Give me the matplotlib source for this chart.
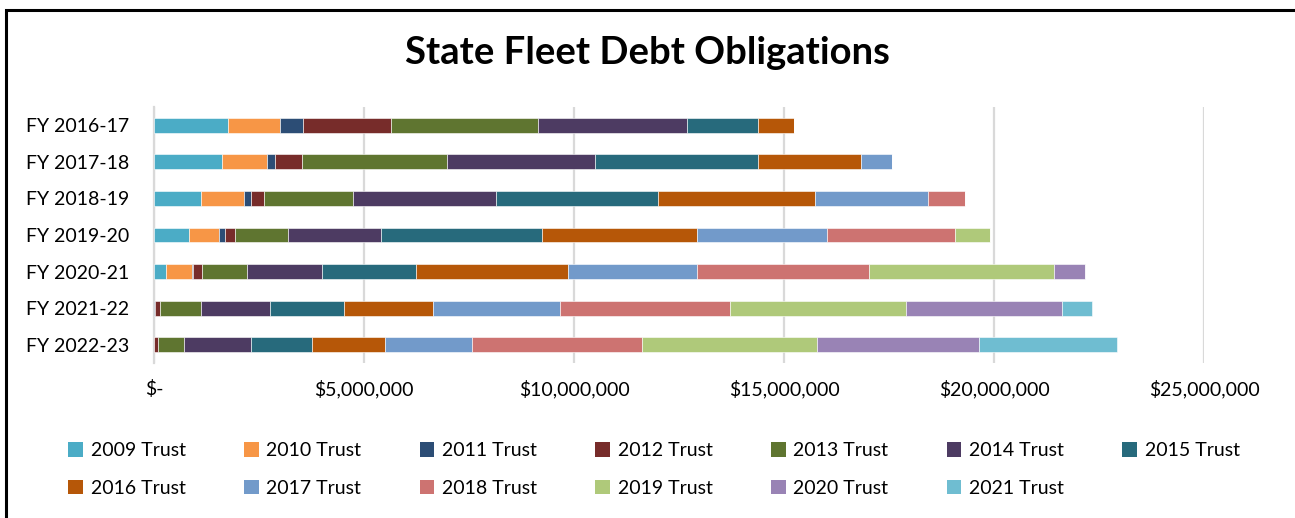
import matplotlib
matplotlib.use("Agg")
import matplotlib.pyplot as plt
from matplotlib.patches import Patch, Rectangle
from matplotlib.ticker import FuncFormatter, MultipleLocator

plt.rcParams["font.family"] = ["Lato", "DejaVu Sans"]

# -------------------- 数据 (单位: 美元百万) --------------------
fiscal_years = ["FY 2016-17", "FY 2017-18", "FY 2018-19", "FY 2019-20",
                "FY 2020-21", "FY 2021-22", "FY 2022-23"]

trusts = ["2009 Trust", "2010 Trust", "2011 Trust", "2012 Trust", "2013 Trust",
          "2014 Trust", "2015 Trust", "2016 Trust", "2017 Trust", "2018 Trust",
          "2019 Trust", "2020 Trust", "2021 Trust"]

t2009 = [1.77, 1.62, 1.12, 0.84, 0.29, 0.00, 0.00]
t2010 = [1.23, 1.08, 1.02, 0.71, 0.61, 0.00, 0.00]
t2011 = [0.54, 0.19, 0.18, 0.15, 0.04, 0.03, 0.00]
t2012 = [2.10, 0.63, 0.29, 0.24, 0.21, 0.12, 0.10]
t2013 = [3.51, 3.46, 2.12, 1.24, 1.06, 0.96, 0.62]
t2014 = [3.53, 3.52, 3.41, 2.23, 1.78, 1.65, 1.60]
t2015 = [1.71, 3.89, 3.87, 3.83, 2.25, 1.77, 1.45]
t2016 = [0.85, 2.44, 3.72, 3.68, 3.62, 2.12, 1.74]
t2017 = [0.00, 0.74, 2.69, 3.10, 3.08, 3.01, 2.05]
t2018 = [0.00, 0.00, 0.90, 3.05, 4.08, 4.06, 4.05]
t2019 = [0.00, 0.00, 0.00, 0.84, 4.41, 4.18, 4.18]
t2020 = [0.00, 0.00, 0.00, 0.00, 0.73, 3.73, 3.85]
t2021 = [0.00, 0.00, 0.00, 0.00, 0.00, 0.70, 3.30]

series = [t2009, t2010, t2011, t2012, t2013, t2014, t2015,
          t2016, t2017, t2018, t2019, t2020, t2021]

colors = ["#4BACC6", "#F79646", "#2C4D75", "#772C2A", "#5F7530", "#4D3B62",
          "#276A7C", "#B65708", "#729ACA", "#CD7371", "#AFC97A", "#9983B5",
          "#6FBDD1"]


def money(x, pos):
    if x == 0:
        return "$-"
    return "${:,.0f}".format(x)


fig = plt.figure(figsize=(12.95, 5.18), dpi=100)
ax = fig.add_axes([154 / 1295, 155 / 518, 1050 / 1295, 256 / 518])

ypos = list(range(len(fiscal_years)))
left = [0.0] * len(fiscal_years)
for name, vals, c in zip(trusts, series, colors):
    dollars = [v * 1e6 for v in vals]
    ax.barh(ypos, dollars, left=left, height=0.41, color=c,
            edgecolor="white", linewidth=0.4, label=name, zorder=3)
    left = [a + b for a, b in zip(left, dollars)]

ax.set_xlim(0, 25e6)
ax.set_ylim(len(fiscal_years) - 0.5, -0.5)
ax.set_yticks(ypos)
ax.set_yticklabels(fiscal_years)
ax.xaxis.set_major_locator(MultipleLocator(5e6))
ax.xaxis.set_major_formatter(FuncFormatter(money))
ax.grid(axis="x", color="#D9D9D9", linewidth=1.6, zorder=0)
for s in ["top", "right", "bottom"]:
    ax.spines[s].set_visible(False)
ax.spines["left"].set_color("#D9D9D9")
ax.spines["left"].set_linewidth(1.6)
ax.tick_params(axis="both", length=0, labelsize=14, colors="black")
ax.tick_params(axis="x", pad=12)
ax.tick_params(axis="y", pad=18)

fig.text(0.5, 1 - 64 / 518, "State Fleet Debt Obligations", ha="center",
         va="baseline", fontsize=27.5, fontweight="bold")

# 图例：按行排列（matplotlib 按列填充，所以重新排序）
order = [0, 7, 1, 8, 2, 9, 3, 10, 4, 11, 5, 12, 6]
handles = [Patch(facecolor=colors[i], edgecolor="none") for i in order]
labels = [trusts[i] for i in order]
fig.legend(handles, labels, ncol=7, loc="center",
           bbox_to_anchor=(0.505, 1 - 469.5 / 518),
           frameon=False, fontsize=14, handlelength=0.75, handleheight=0.75,
           handletextpad=0.4, columnspacing=3.0, labelspacing=1.05)

# 外框
fig.patches.append(Rectangle((6 / 1295, -0.05), 1.2, 1 - 10 / 518 + 0.05,
                             transform=fig.transFigure, fill=False,
                             edgecolor="black", linewidth=2.2))

fig.savefig("out.png", dpi=100)
